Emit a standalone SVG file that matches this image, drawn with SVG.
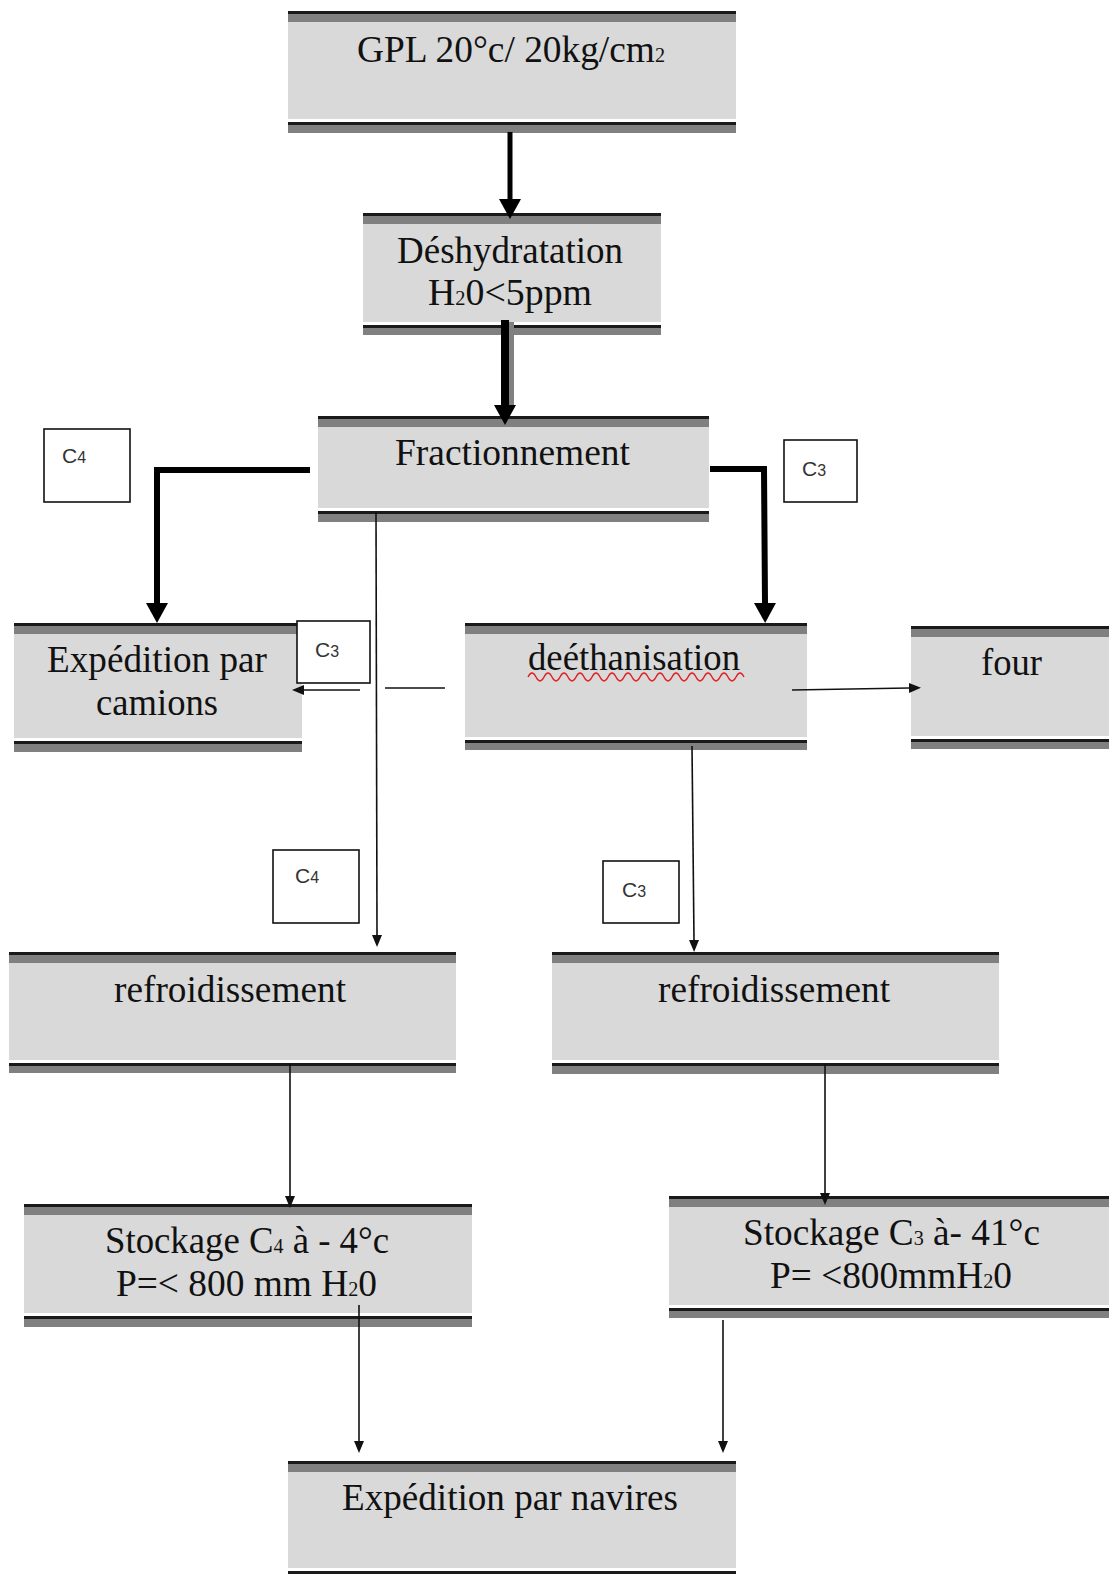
<svg xmlns="http://www.w3.org/2000/svg" width="1109" height="1574" viewBox="0 0 1109 1574">
<style>
.fill{fill:#d9d9d9}
.band{fill:#808080}
.line{fill:#1a1a1a}
.t{font-family:"Liberation Serif","Times New Roman",serif;font-size:37px;fill:#111}
.sub{font-size:20px}
.lab{fill:#fff;stroke:#111;stroke-width:1.6}
.lt{font-family:"Liberation Sans",Arial,sans-serif;font-size:21px;fill:#333}
.ld{font-size:16px}
.thick{fill:none;stroke:#000;stroke-width:6}
.thin{fill:none;stroke:#111;stroke-width:1.6}
</style>
<defs>
<marker id="hb" markerUnits="userSpaceOnUse" markerWidth="20" markerHeight="22" refX="0" refY="11" orient="auto">
<path d="M0,0 L20,11 L0,22 z" fill="#000"/>
</marker>
<marker id="hs" markerUnits="userSpaceOnUse" markerWidth="12" markerHeight="10" refX="0" refY="5" orient="auto">
<path d="M0,0 L12,5 L0,10 z" fill="#111"/>
</marker>
</defs>
<rect width="1109" height="1574" fill="#fff"/>

<g id="n-gpl">
<rect class="fill" x="288" y="11" width="448" height="108"/>
<rect class="band" x="288" y="11" width="448" height="11"/>
<rect class="line" x="288" y="11" width="448" height="3"/>
<rect class="band" x="288" y="122" width="448" height="11"/>
<rect class="line" x="288" y="122" width="448" height="3"/>
<text class="t" x="357" y="62" textLength="308" lengthAdjust="spacingAndGlyphs">GPL 20°c/ 20kg/cm<tspan class="sub">2</tspan></text>
</g>

<g id="n-desh">
<rect class="fill" x="363" y="213" width="298" height="109"/>
<rect class="band" x="363" y="213" width="298" height="11"/>
<rect class="line" x="363" y="213" width="298" height="3"/>
<rect class="band" x="363" y="325" width="298" height="10"/>
<rect class="line" x="363" y="325" width="298" height="3"/>
<text class="t" x="397" y="263" textLength="226" lengthAdjust="spacingAndGlyphs">Déshydratation</text>
<text class="t" x="428" y="305" textLength="164" lengthAdjust="spacingAndGlyphs">H<tspan class="sub">2</tspan>0&lt;5ppm</text>
</g>

<g id="n-frac">
<rect class="fill" x="318" y="416" width="391" height="92"/>
<rect class="band" x="318" y="416" width="391" height="11"/>
<rect class="line" x="318" y="416" width="391" height="3"/>
<rect class="band" x="318" y="511" width="391" height="11"/>
<rect class="line" x="318" y="511" width="391" height="3"/>
<text class="t" x="395" y="465" textLength="235" lengthAdjust="spacingAndGlyphs">Fractionnement</text>
</g>

<g id="n-camions">
<rect class="fill" x="14" y="623" width="288" height="115"/>
<rect class="band" x="14" y="623" width="288" height="11"/>
<rect class="line" x="14" y="623" width="288" height="3"/>
<rect class="band" x="14" y="741" width="288" height="11"/>
<rect class="line" x="14" y="741" width="288" height="3"/>
<text class="t" x="47" y="672" textLength="220" lengthAdjust="spacingAndGlyphs">Expédition par</text>
<text class="t" x="96" y="715" textLength="122" lengthAdjust="spacingAndGlyphs">camions</text>
</g>

<g id="n-deeth">
<rect class="fill" x="465" y="623" width="342" height="114"/>
<rect class="band" x="465" y="623" width="342" height="11"/>
<rect class="line" x="465" y="623" width="342" height="3"/>
<rect class="band" x="465" y="740" width="342" height="10"/>
<rect class="line" x="465" y="740" width="342" height="3"/>
<text class="t" x="528" y="670" textLength="212" lengthAdjust="spacingAndGlyphs">deéthanisation</text>
<path d="M528,677 q4,-8 8,0 t8,0 t8,0 t8,0 t8,0 t8,0 t8,0 t8,0 t8,0 t8,0 t8,0 t8,0 t8,0 t8,0 t8,0 t8,0 t8,0 t8,0 t8,0 t8,0 t8,0 t8,0 t8,0 t8,0 t8,0 t8,0 t8,0" fill="none" stroke="#e02020" stroke-width="1.4"/>
</g>

<g id="n-four">
<rect class="fill" x="911" y="626" width="198" height="110"/>
<rect class="band" x="911" y="626" width="198" height="11"/>
<rect class="line" x="911" y="626" width="198" height="3"/>
<rect class="band" x="911" y="739" width="198" height="10"/>
<rect class="line" x="911" y="739" width="198" height="3"/>
<text class="t" x="981" y="675" textLength="61" lengthAdjust="spacingAndGlyphs">four</text>
</g>

<g id="n-refL">
<rect class="fill" x="9" y="952" width="447" height="108"/>
<rect class="band" x="9" y="952" width="447" height="11"/>
<rect class="line" x="9" y="952" width="447" height="3"/>
<rect class="band" x="9" y="1063" width="447" height="10"/>
<rect class="line" x="9" y="1063" width="447" height="3"/>
<text class="t" x="114" y="1002" textLength="232" lengthAdjust="spacingAndGlyphs">refroidissement</text>
</g>

<g id="n-refR">
<rect class="fill" x="552" y="952" width="447" height="108"/>
<rect class="band" x="552" y="952" width="447" height="11"/>
<rect class="line" x="552" y="952" width="447" height="3"/>
<rect class="band" x="552" y="1063" width="447" height="11"/>
<rect class="line" x="552" y="1063" width="447" height="3"/>
<text class="t" x="658" y="1002" textLength="232" lengthAdjust="spacingAndGlyphs">refroidissement</text>
</g>

<g id="n-stockC4">
<rect class="fill" x="24" y="1204" width="448" height="109"/>
<rect class="band" x="24" y="1204" width="448" height="11"/>
<rect class="line" x="24" y="1204" width="448" height="3"/>
<rect class="band" x="24" y="1316" width="448" height="11"/>
<rect class="line" x="24" y="1316" width="448" height="3"/>
<text class="t" x="105" y="1253" textLength="284" lengthAdjust="spacingAndGlyphs">Stockage C<tspan class="sub">4</tspan> à - 4°c</text>
<text class="t" x="116" y="1296" textLength="261" lengthAdjust="spacingAndGlyphs">P=&lt; 800 mm H<tspan class="sub">2</tspan>0</text>
</g>

<g id="n-stockC3">
<rect class="fill" x="669" y="1196" width="440" height="109"/>
<rect class="band" x="669" y="1196" width="440" height="11"/>
<rect class="line" x="669" y="1196" width="440" height="3"/>
<rect class="band" x="669" y="1308" width="440" height="10"/>
<rect class="line" x="669" y="1308" width="440" height="3"/>
<text class="t" x="743" y="1245" textLength="297" lengthAdjust="spacingAndGlyphs">Stockage C<tspan class="sub">3</tspan> à- 41°c</text>
<text class="t" x="770" y="1288" textLength="242" lengthAdjust="spacingAndGlyphs">P= &lt;800mmH<tspan class="sub">2</tspan>0</text>
</g>

<g id="n-navires">
<rect class="fill" x="288" y="1461" width="448" height="107"/>
<rect class="band" x="288" y="1461" width="448" height="11"/>
<rect class="line" x="288" y="1461" width="448" height="3"/>
<rect class="line" x="288" y="1571" width="448" height="3"/>
<text class="t" x="342" y="1510" textLength="336" lengthAdjust="spacingAndGlyphs">Expédition par navires</text>
</g>

<g id="connectors">
<line class="thick" x1="510" y1="132" x2="510" y2="199" marker-end="url(#hb)" style="stroke-width:5"/>
<line x1="511" y1="322" x2="511" y2="405" stroke="#808080" stroke-width="6"/>
<line class="thick" x1="505" y1="320" x2="505" y2="405" marker-end="url(#hb)" style="stroke-width:8"/>
<polyline class="thick" points="310,470 157,470 157,603" marker-end="url(#hb)"/>
<polyline class="thick" points="710,469 764,469 765,603" marker-end="url(#hb)"/>
<line class="thin" x1="376" y1="512" x2="377" y2="935" marker-end="url(#hs)"/>
<line class="thin" x1="360" y1="690" x2="304" y2="690" marker-end="url(#hs)"/>
<line class="thin" x1="385" y1="688" x2="445" y2="688"/>
<line class="thin" x1="792" y1="690" x2="909" y2="688" marker-end="url(#hs)"/>
<line class="thin" x1="692" y1="746" x2="694" y2="940" marker-end="url(#hs)"/>
<line class="thin" x1="290" y1="1064" x2="290" y2="1196" marker-end="url(#hs)"/>
<line class="thin" x1="825" y1="1064" x2="825" y2="1193" marker-end="url(#hs)"/>
<line class="thin" x1="359" y1="1305" x2="359" y2="1441" marker-end="url(#hs)"/>
<line class="thin" x1="723" y1="1320" x2="723" y2="1441" marker-end="url(#hs)"/>
</g>

<g id="lab-c4a">
<rect class="lab" x="44" y="429" width="86" height="73"/>
<text class="lt" x="62" y="463">C<tspan class="ld">4</tspan></text>
</g>
<g id="lab-c3a">
<rect class="lab" x="784" y="440" width="73" height="62"/>
<text class="lt" x="802" y="476">C<tspan class="ld">3</tspan></text>
</g>
<g id="lab-c3b">
<rect class="lab" x="297" y="621" width="73" height="62"/>
<text class="lt" x="315" y="657">C<tspan class="ld">3</tspan></text>
</g>
<g id="lab-c4b">
<rect class="lab" x="273" y="850" width="86" height="73"/>
<text class="lt" x="295" y="883">C<tspan class="ld">4</tspan></text>
</g>
<g id="lab-c3c">
<rect class="lab" x="603" y="861" width="76" height="62"/>
<text class="lt" x="622" y="897">C<tspan class="ld">3</tspan></text>
</g>
</svg>
